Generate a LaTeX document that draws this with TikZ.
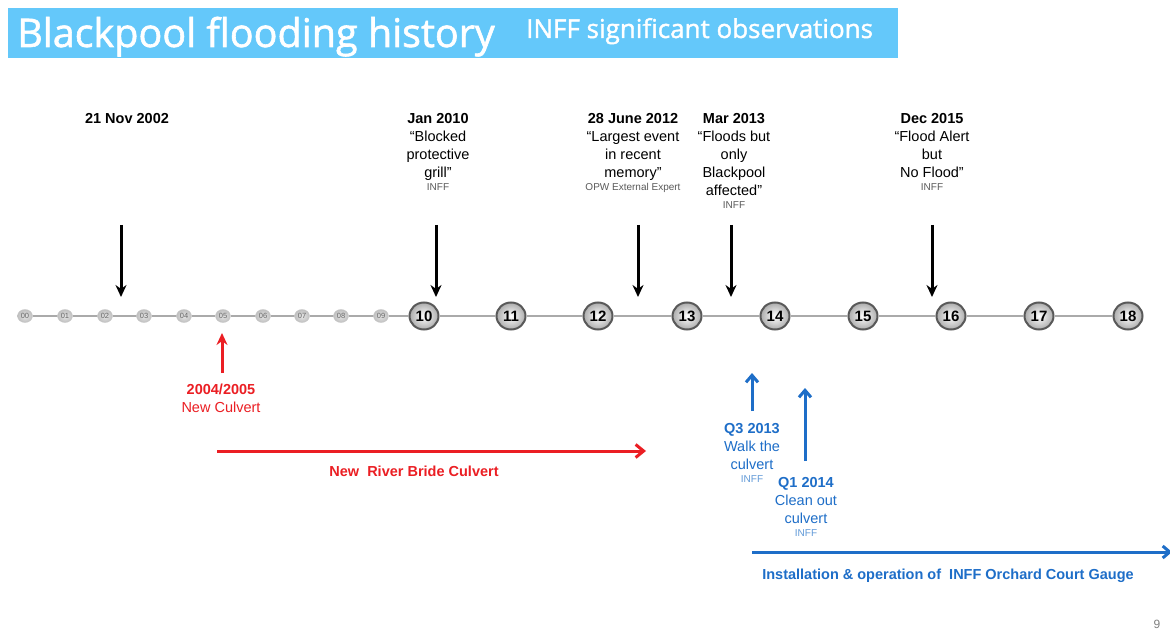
\documentclass[tikz,border=0pt]{standalone}
\usepackage{fontspec}
\setmainfont{Liberation Sans}
\newfontfamily\titlefont[FakeBold=1.5]{Open Sans}
\usetikzlibrary{arrows.meta,shapes.geometric}
\definecolor{band}{RGB}{100,200,250}
\definecolor{redc}{RGB}{235,30,35}
\definecolor{bluec}{RGB}{30,110,200}
\definecolor{linegray}{RGB}{170,170,170}
\definecolor{srcgray}{RGB}{90,90,90}
\newcommand\srcfont{\fontsize{10}{10}\selectfont\color{srcgray}}
\newcommand\srcblue{\fontsize{10}{10}\selectfont\color{bluec!70}}
\begin{document}
\begin{tikzpicture}[x=1pt,y=-1pt,
  bigball/.style={ellipse, draw=black!65, line width=2pt, shading=radial, inner color=white, outer color=gray!65,
    minimum width=29pt, minimum height=27pt, inner sep=0pt, font=\bfseries\fontsize{15}{15}\selectfont},
  smallball/.style={ellipse, draw=gray!45, line width=0.4pt, shading=radial, inner color=gray!20, outer color=gray!50,
    minimum width=15pt, minimum height=13pt, inner sep=0pt, font=\fontsize{7.5}{8}\selectfont, text=black!60},
  evt/.style={align=center, anchor=north, inner sep=0pt, font=\fontsize{14.5}{18}\selectfont},
  down/.style={-{Stealth[length=12pt,width=11pt]}, line width=3pt, black},
  redup/.style={-{Stealth[length=12pt,width=11pt]}, line width=3pt, redc},
  redline/.style={-{Straight Barb[length=8pt,width=13pt]}, line width=3pt, redc},
  blueup/.style={-{Straight Barb[length=7pt,width=12pt]}, line width=3pt, bluec},
  blueline/.style={-{Straight Barb[length=7pt,width=12pt]}, line width=3pt, bluec},
  tl/.style={linegray, line width=2pt}
]
\useasboundingbox (0,0) rectangle (1170,631);
\fill[white] (0,0) rectangle (1170,631);

% title band
\node[fill=band, minimum width=890pt, minimum height=50pt, anchor=north west, inner sep=0pt] (band) at (8,8) {};
\node[anchor=base west, inner sep=0pt, text=white, font=\titlefont\fontsize{39.5}{40}\selectfont] (title) at (17,47) {Blackpool flooding history};
\node[anchor=base west, inner sep=0pt, text=white, font=\titlefont\fontsize{26}{26}\selectfont] (subtitle) at (526,38) {INFF significant observations};

% timeline balls
\foreach \i/\x in {00/25,01/65,02/105,03/144,04/184,05/223,06/263,07/302,08/341,09/381}
  \node[smallball] (b\i) at (\x,316) {\i};
\foreach \i/\x in {10/424,11/511,12/598,13/687,14/775,15/863,16/951,17/1039,18/1128}
  \node[bigball] (b\i) at (\x,316) {\i};
\foreach \a/\b in {00/01,01/02,02/03,03/04,04/05,05/06,06/07,07/08,08/09,09/10,10/11,11/12,12/13,13/14,14/15,15/16,16/17,17/18}
  \draw[tl] (b\a) -- (b\b);

% events above
\node[evt] (e02) at (127,113) {\bfseries 21 Nov 2002};
\node[evt] (e10) at (438,113) {\textbf{Jan 2010}\\“Blocked\\protective\\grill”\\[-5pt]{\srcfont INFF}};
\node[evt] (e12) at (633,113) {\textbf{28 June 2012}\\“Largest event\\in recent\\memory”\\[-5pt]{\srcfont OPW External Expert}};
\node[evt] (e13) at (734,113) {\textbf{Mar 2013}\\“Floods but\\only\\Blackpool\\affected”\\[-5pt]{\srcfont INFF}};
\node[evt] (e15) at (932,113) {\textbf{Dec 2015}\\“Flood Alert\\but\\No Flood”\\[-5pt]{\srcfont INFF}};

\foreach \n/\x in {02/121,10/436,12/638,13/731,15/932}{
  \coordinate (d\n s) at (\x,225);
  \coordinate (d\n e) at (\x,297);
  \draw[down] (d\n s) -- (d\n e);
}

% red: new culvert
\coordinate (r1s) at (222,373);
\coordinate (r1e) at (222,333);
\draw[redup] (r1s) -- (r1e);
\node[evt, text=redc] (culv) at (221,384) {\textbf{2004/2005}\\New Culvert};
\coordinate (r2s) at (217,451);
\coordinate (r2e) at (646,451);
\draw[redline] (r2s) -- (r2e);
\node[evt, text=redc] (bride) at (414,466) {\bfseries New\ \ River Bride Culvert};

% blue
\coordinate (q3s) at (752,411);
\coordinate (q3e) at (752,373);
\draw[blueup] (q3s) -- (q3e);
\node[evt, text=bluec] (q3) at (752,423) {\textbf{Q3 2013}\\Walk the\\culvert\\[-5pt]{\srcblue INFF}};
\coordinate (q1s) at (805,461);
\coordinate (q1e) at (805,388);
\draw[blueup] (q1s) -- (q1e);
\node[evt, text=bluec] (q1) at (806,477) {\textbf{Q1 2014}\\Clean out\\culvert\\[-5pt]{\srcblue INFF}};
\coordinate (g1s) at (752,552);
\coordinate (g1e) at (1172,552);
\draw[blueline] (g1s) -- (g1e);
\node[evt, text=bluec] (gauge) at (948,569) {\bfseries Installation \& operation of\ \ INFF Orchard Court Gauge};

% page number
\node[inner sep=0pt, text=gray, font=\fontsize{12}{12}\selectfont] (pg) at (1157,624) {9};
\end{tikzpicture}
\end{document}
